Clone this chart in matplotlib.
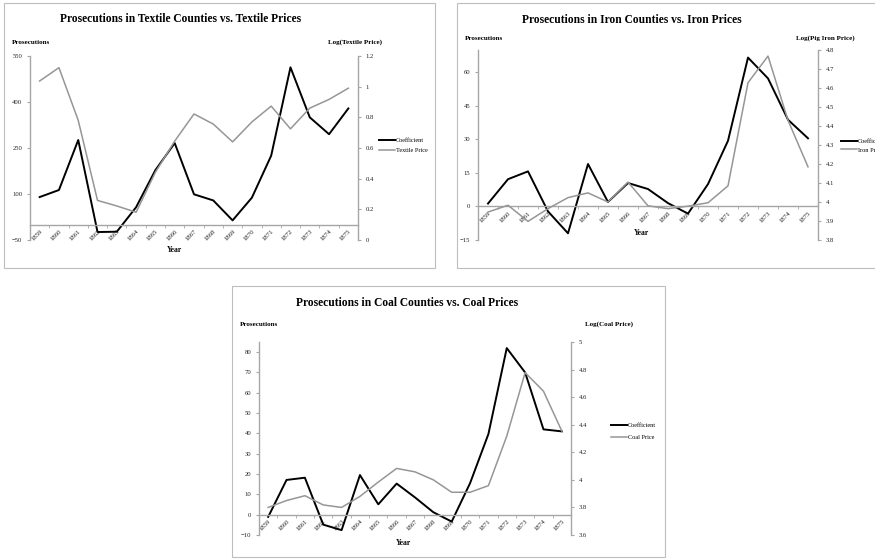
import matplotlib.pyplot as plt
import matplotlib.ticker as mticker
from matplotlib.patches import Rectangle

plt.rcParams['font.family'] = ['Liberation Serif', 'DejaVu Serif']

years = [str(y) for y in range(1859, 1876)]

# textile counties
textile_coef = [90, 113, 276, -24, -23, 57, 178, 266, 99, 79, 14, 88, 225, 513, 350, 295, 379]
textile_price = [1.037, 1.124, 0.78, 0.258, 0.222, 0.181, 0.442, 0.645, 0.822,
                 0.756, 0.64, 0.77, 0.873, 0.725, 0.86, 0.917, 0.99]

# iron counties
iron_coef = [1.3, 12.2, 15.7, -2.2, -12.0, 19.0, 2.0, 10.5, 7.8, 1.5, -3.2, 10.0,
             29.4, 66.6, 57.3, 38.8, 30.5]
iron_price = [3.947, 3.983, 3.898, 3.965, 4.023, 4.048, 4.0, 4.105, 3.98, 3.965,
              3.978, 3.996, 4.085, 4.628, 4.768, 4.43, 4.185]

# coal counties
coal_coef = [-1.1, 17.1, 18.2, -4.9, -7.6, 19.5, 5.1, 15.3, 8.5, 1.2, -3.4, 15.5,
             39.7, 82.0, 70.0, 42.0, 41.0]
coal_price = [3.80, 3.85, 3.885, 3.818, 3.80, 3.88, 3.984, 4.083, 4.058, 4.0, 3.91,
              3.91, 3.958, 4.317, 4.778, 4.643, 4.354]

W, H = 875, 559
fig = plt.figure(figsize=(W / 100, H / 100), dpi=100)
fig.patch.set_facecolor('white')

AX_GREY = '#a6a6a6'
PRICE_GREY = '#969696'
TXT = '#222222'


def rect(l, t, r, b):
    return [l / W, 1 - b / H, (r - l) / W, (b - t) / H]


def ftext(x, y, s, **kw):
    fig.text(x / W, 1 - y / H, s, **kw)


def fmt(v, p):
    return f"{round(v, 2):g}"


def panel(box, area, title, title_xy, coef, price, price_name, right_label,
          lylim, lticks, rylim, rticks, lab_y, right_x, year_xy, leg_xy, leg_gap):
    # border around the chart object
    l, t, r, b = box
    fig.patches.append(Rectangle((l / W, 1 - b / H), (r - l) / W, (b - t) / H,
                                 transform=fig.transFigure, fill=False,
                                 edgecolor='#bdbdbd', lw=0.8))

    ax = fig.add_axes(rect(*area))
    ax2 = ax.twinx()
    x = range(len(years))

    ax.plot(x, coef, color='black', lw=1.4, label='Coefficient')
    ax2.plot(x, price, color=PRICE_GREY, lw=1.1, label=price_name)

    ax.set_xlim(-0.5, len(years) - 0.5)
    ax.set_ylim(*lylim)
    ax.set_yticks(lticks)
    ax2.set_ylim(*rylim)
    ax2.set_yticks(rticks)
    ax2.yaxis.set_major_formatter(mticker.FuncFormatter(fmt))

    ax.spines['top'].set_visible(False)
    ax.spines['right'].set_visible(False)
    ax.spines['bottom'].set_position(('data', 0))
    for s in ['left', 'bottom']:
        ax.spines[s].set_color(AX_GREY)
        ax.spines[s].set_linewidth(1.0)
    for s in ['top', 'left', 'bottom']:
        ax2.spines[s].set_visible(False)
    ax2.spines['right'].set_color(AX_GREY)
    ax2.spines['right'].set_linewidth(1.0)

    ax.set_xticks(list(x))
    ax.set_xticklabels(years, rotation=45, ha='right', va='top',
                       rotation_mode='anchor', fontsize=4.8, color=TXT)
    ax.tick_params(axis='x', which='major', length=0, pad=3)
    ax.set_xticks([i - 0.5 for i in range(len(years) + 1)], minor=True)
    ax.tick_params(axis='x', which='minor', length=2.5, color=AX_GREY, direction='out')
    ax.tick_params(axis='y', labelsize=4.8, labelcolor=TXT, length=2.5,
                   color=AX_GREY, pad=3)
    ax2.tick_params(axis='y', labelsize=4.8, labelcolor=TXT, length=2.5,
                    color=AX_GREY, pad=3)
    ax.patch.set_visible(False)

    ftext(title_xy[0], title_xy[1], title, ha='center', va='center',
          fontsize=8.3, fontweight='bold')
    ftext(l + 8, lab_y, 'Prosecutions', ha='left', va='center',
          fontsize=5, fontweight='bold')
    ftext(right_x, lab_y, right_label, ha='center', va='center',
          fontsize=5, fontweight='bold')
    ftext(year_xy[0], year_xy[1], 'Year', ha='center', va='center',
          fontsize=5.5, fontweight='bold')

    h1, l1 = ax.get_legend_handles_labels()
    h2, l2 = ax2.get_legend_handles_labels()
    fig.legend(h1 + h2, l1 + l2, loc='upper left',
               bbox_to_anchor=(leg_xy[0] / W, 1 - leg_xy[1] / H),
               frameon=False, fontsize=4.5, handlelength=2.6,
               handletextpad=0.1, labelspacing=leg_gap, borderpad=0,
               borderaxespad=0)
    return ax, ax2


panel((4, 3, 435, 268), (30, 56, 358, 240),
      'Prosecutions in Textile Counties vs. Textile Prices', (181, 19),
      textile_coef, textile_price, 'Textile Price', 'Log(Textile Price)',
      (-50, 550), list(range(-50, 551, 150)),
      (0, 1.2), [0, 0.2, 0.4, 0.6, 0.8, 1.0, 1.2],
      42, 355, (174, 250), (379, 138), 0.75)

panel((457, 3, 900, 268), (478, 50, 818, 240),
      'Prosecutions in Iron Counties vs. Iron Prices', (632, 20),
      iron_coef, iron_price, 'Iron Price', 'Log(Pig Iron Price)',
      (-15, 70), list(range(-15, 61, 15)),
      (3.8, 4.8), [3.8 + 0.1 * i for i in range(11)],
      38, 825, (641, 233), (841, 139), 0.45)

panel((232, 286, 665, 557), (259, 342, 571, 535),
      'Prosecutions in Coal Counties vs. Coal Prices', (407, 303),
      coal_coef, coal_price, 'Coal Price', 'Log(Coal Price)',
      (-10, 85), list(range(-10, 81, 10)),
      (3.6, 5.0), [3.6 + 0.2 * i for i in range(8)],
      324, 609, (403, 543), (611, 423), 1.0)

fig.savefig('out.png', dpi=100)
